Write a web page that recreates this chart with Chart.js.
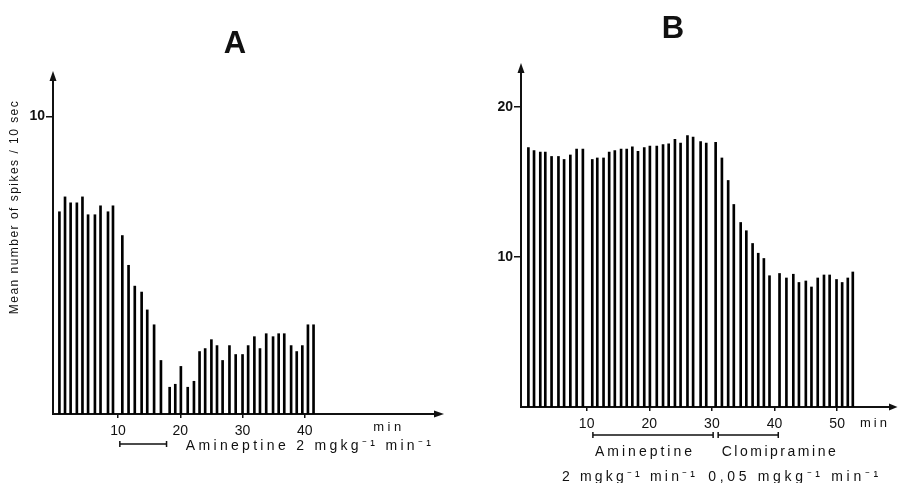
<!DOCTYPE html>
<html>
<head>
<meta charset="utf-8">
<script src="https://cdn.jsdelivr.net/npm/chart.js@4.4.1/dist/chart.umd.min.js"></script>
<style>
  html, body { margin: 0; padding: 0; background: #fff; }
  #wrap { position: relative; width: 898px; height: 483px; }
  canvas { position: absolute; top: 0; }
</style>
</head>
<body>
<div id="wrap">
  <canvas id="chartA" width="449" height="483" style="left:0"></canvas>
  <canvas id="chartB" width="449" height="483" style="left:449px"></canvas>
</div>
<script>
// panel A: spikes per 10 s, one reading per minute (amineptine)
const timesA = [0.6, 1.5, 2.4, 3.4, 4.3, 5.2, 6.3, 7.2, 8.4, 9.2,
  10.7, 11.7, 12.7, 13.8, 14.7, 15.8, 16.9, 18.3, 19.2, 20.1,
  21.2, 22.2, 23.1, 24.0, 25.0, 25.9, 26.8, 27.9, 28.9, 30.0,
  30.9, 31.9, 32.8, 33.8, 34.9, 35.8, 36.7, 37.8, 38.7, 39.6,
  40.5, 41.4]
const spikesA = [6.8, 7.3, 7.1, 7.1, 7.3, 6.7, 6.7, 7.0, 6.8, 7.0,
  6.0, 5.0, 4.3, 4.1, 3.5, 3.0, 1.8, 0.9, 1.0, 1.6,
  0.9, 1.1, 2.1, 2.2, 2.5, 2.3, 1.8, 2.3, 2.0, 2.0,
  2.3, 2.6, 2.2, 2.7, 2.6, 2.7, 2.7, 2.3, 2.1, 2.3,
  3.0, 3.0]
const xTicksA = [10, 20, 30, 40]
const yTicksA = [10]

// panel B: amineptine then clomipramine
const timesB = [0.7, 1.6, 2.6, 3.4, 4.4, 5.5, 6.4, 7.4, 8.4, 9.4,
  10.9, 11.7, 12.7, 13.6, 14.5, 15.5, 16.4, 17.3, 18.2, 19.2,
  20.1, 21.2, 22.2, 23.1, 24.1, 25.0, 26.1, 27.0, 28.2, 29.1,
  30.6, 31.6, 32.6, 33.5, 34.6, 35.5, 36.5, 37.4, 38.3, 39.2,
  40.8, 41.9, 43.0, 43.9, 45.0, 45.9, 46.9, 47.9, 48.8, 49.9,
  50.8, 51.7, 52.5]
const spikesB = [17.3, 17.1, 17.0, 17.0, 16.7, 16.7, 16.5, 16.8, 17.2, 17.2,
  16.5, 16.6, 16.6, 17.0, 17.1, 17.2, 17.2, 17.35, 17.05, 17.3,
  17.4, 17.4, 17.5, 17.55, 17.85, 17.6, 18.1, 18.0, 17.7, 17.6,
  17.65, 16.6, 15.1, 13.5, 12.3, 11.75, 10.9, 10.25, 9.9, 8.75,
  8.9, 8.6, 8.85, 8.3, 8.4, 8.0, 8.6, 8.8, 8.8, 8.5,
  8.3, 8.6, 9.0]
const xTicksB = [10, 20, 30, 40, 50]
const yTicksB = [10, 20]

// drug infusion periods (min)
const infusionA = [[10.3, 17.8]]
const infusionB = [[11.0, 30.2], [31.0, 40.6]]

const INK = '#111'

// draw text, stretched with letter spacing to a given width
const putText = (ctx, t) => {
  ctx.save()
  ctx.font = (t.bold ? 'bold ' : '') + t.size + 'px "Liberation Sans", sans-serif'
  ctx.fillStyle = INK
  ctx.textBaseline = 'middle'
  ctx.textAlign = 'left'
  let w = ctx.measureText(t.text).width
  if (t.w) {
    let sp = (t.w - w) / Math.max(t.text.length - 1, 1)
    ctx.letterSpacing = sp.toFixed(2) + 'px'
    w = t.w + sp
  }
  ctx.translate(t.x, t.y)
  if (t.rot) ctx.rotate(t.rot)
  ctx.fillText(t.text, -w / 2, 0)
  ctx.restore()
}

const decor = {
  id: 'decor',
  afterDraw(chart, args, o) {
    const { ctx, chartArea: a } = chart
    const xs = chart.scales.x
    ctx.save()
    ctx.fillStyle = INK
    ctx.strokeStyle = INK
    // arrow heads
    ctx.beginPath()
    ctx.moveTo(a.left, o.arrowTop)
    ctx.lineTo(a.left - 3.5, a.top + 1)
    ctx.lineTo(a.left + 3.5, a.top + 1)
    ctx.closePath()
    ctx.fill()
    ctx.beginPath()
    ctx.moveTo(o.arrowRight, a.bottom)
    ctx.lineTo(a.right - 1, a.bottom - 3.5)
    ctx.lineTo(a.right - 1, a.bottom + 3.5)
    ctx.closePath()
    ctx.fill()
    // infusion brackets
    ctx.lineWidth = 1.5
    o.brackets.forEach(([t1, t2]) => {
      let x1 = xs.getPixelForValue(t1), x2 = xs.getPixelForValue(t2)
      ctx.beginPath()
      ctx.moveTo(x1, o.bracketY)
      ctx.lineTo(x2, o.bracketY)
      ctx.moveTo(x1, o.bracketY - 3)
      ctx.lineTo(x1, o.bracketY + 3)
      ctx.moveTo(x2, o.bracketY - 3)
      ctx.lineTo(x2, o.bracketY + 3)
      ctx.stroke()
    })
    ctx.restore()
    o.texts.forEach(t => putText(ctx, t))
  }
}

const spikeChart = (id, c) => new Chart(document.getElementById(id), {
  type: 'bar',
  data: {
    datasets: [{
      data: c.times.map((t, i) => ({ x: t, y: c.spikes[i] })),
      backgroundColor: '#000',
      borderWidth: 0,
      barThickness: 2,
    }]
  },
  options: {
    responsive: false,
    animation: false,
    layout: { padding: { top: c.top, right: c.right, left: 0, bottom: 0 } },
    plugins: {
      legend: { display: false },
      tooltip: { enabled: false },
      decor: c.decor,
    },
    scales: {
      x: {
        type: 'linear',
        offset: false,
        min: c.xMin,
        max: c.xMax,
        afterBuildTicks: s => { s.ticks = c.xTicks.map(v => ({ value: v })) },
        afterFit: s => { s.height = c.xH },
        grid: { offset: false, drawOnChartArea: false, tickLength: 4, color: INK, lineWidth: 1.5 },
        border: { color: INK, width: 2 },
        ticks: { color: INK, padding: 5, maxRotation: 0, font: { family: 'Liberation Sans', size: 14 } },
      },
      y: {
        min: 0,
        max: c.yMax,
        afterBuildTicks: s => { s.ticks = c.yTicks.map(v => ({ value: v })) },
        afterFit: s => { s.width = c.yW },
        grid: { drawOnChartArea: false, tickLength: 7, color: INK, lineWidth: 1.5 },
        border: { color: INK, width: 2 },
        ticks: { color: INK, padding: 1, font: { family: 'Liberation Sans', size: 14, weight: 'bold' } },
      }
    }
  },
  plugins: [decor]
})

spikeChart('chartA', {
  times: timesA, spikes: spikesA, xTicks: xTicksA, yTicks: yTicksA,
  xMin: -0.43, xMax: 60.9, yMax: 11.23,
  top: 80, right: 14, xH: 69, yW: 53,
  decor: {
    arrowTop: 71, arrowRight: 444, bracketY: 444, brackets: infusionA,
    texts: [
      { text: 'A', x: 235, y: 44, size: 31, bold: true },
      { text: 'Mean number of spikes / 10 sec', x: 15, y: 207, size: 12, w: 213, rot: -Math.PI / 2 },
      { text: 'min', x: 389, y: 427, size: 13, w: 28 },
      { text: 'Amineptine 2 mgkg⁻¹ min⁻¹', x: 310, y: 446, size: 14, w: 245 },
    ]
  }
})

spikeChart('chartB', {
  times: timesB, spikes: spikesB, xTicks: xTicksB, yTicks: yTicksB,
  xMin: -0.48, xMax: 58.44, yMax: 22.33,
  top: 72, right: 8, xH: 76, yW: 72,
  decor: {
    arrowTop: 63, arrowRight: 448.5, bracketY: 435, brackets: infusionB,
    texts: [
      { text: 'B', x: 224, y: 29, size: 31, bold: true },
      { text: 'min', x: 426, y: 423, size: 13, w: 27 },
      { text: 'Amineptine', x: 196, y: 452, size: 14, w: 97 },
      { text: 'Clomipramine', x: 331, y: 452, size: 14, w: 114 },
      { text: '2 mgkg⁻¹ min⁻¹', x: 181, y: 477, size: 14, w: 133 },
      { text: '0,05 mgkg⁻¹ min⁻¹', x: 346, y: 477, size: 14, w: 170 },
    ]
  }
})
</script>
</body>
</html>
